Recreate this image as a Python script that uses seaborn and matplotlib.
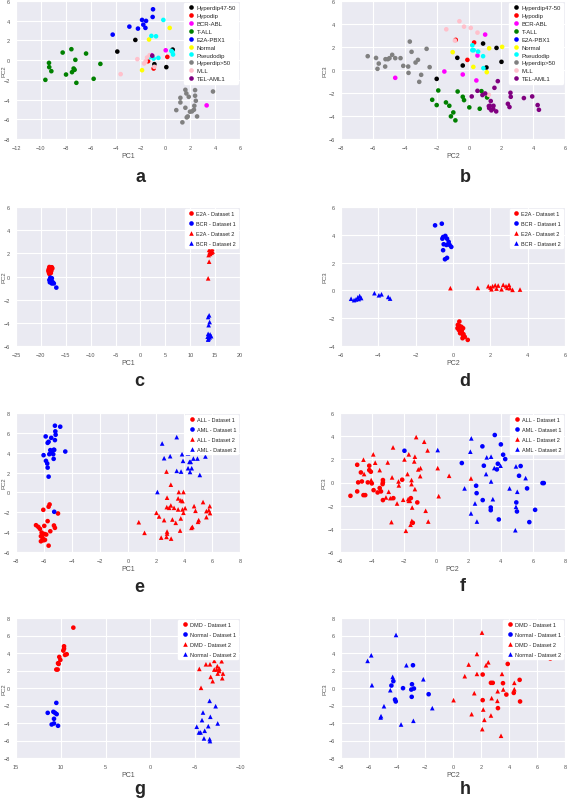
import pandas as pd
import matplotlib
matplotlib.use("Agg")
import matplotlib.pyplot as plt
import seaborn as sns

# ---- panel a / b : leukemia subtypes (PC1 vs PC2, PC2 vs PC3) ----
subtypes = ['Hyperdip47-50', 'Hypodip', 'BCR-ABL', 'T-ALL', 'E2A-PBX1',
            'Normal', 'Pseudodip', 'Hyperdip>50', 'MLL', 'TEL-AML1']
subtype_colors = ['black', 'red', 'magenta', 'green', 'blue',
                  'yellow', 'cyan', 'gray', 'pink', 'purple']

a_hyperdip4750 = [(-2.41, 2.05), (-3.86, 0.87), (0.59, 1.07), (-0.88, -0.41), (0.08, -0.71)]
a_hypodip = [(0.16, 0.33), (-1.39, -0.11), (-0.94, -0.85)]
a_bcrabl = [(0.03, 1.0), (-1.12, 0.5), (3.32, -4.59)]
a_tall = [(-8.25, 0.77), (-7.55, 1.11), (-6.37, 0.67), (-7.23, 0.03), (-9.35, -0.28),
          (-9.33, -0.71), (-9.16, -1.12), (-7.37, -0.85), (-7.29, -0.98), (-7.5, -1.22),
          (-7.98, -1.46), (-5.22, -0.38), (-5.76, -1.89), (-7.15, -2.30), (-9.64, -2.0)]
a_e2apbx1 = [(-0.99, 5.16), (-1.02, 4.38), (-1.87, 4.08), (-1.55, 3.98), (-1.77, 3.60),
             (-2.89, 3.40), (-2.2, 3.2), (-1.6, 3.27), (-4.23, 2.59)]
a_normal = [(0.35, 3.27), (-1.31, 2.09), (-1.87, -1.02)]
a_pseudodip = [(-0.16, 4.08), (-1.12, 2.46), (-0.75, 2.42), (-1.26, 0.30), (-0.94, 0.16),
               (-0.56, 0.23), (0.48, 0.94), (0.62, 0.57), (0.56, 0.84)]
a_hyperdip50 = [(1.61, -3.01), (2.39, -3.04), (1.69, -3.38), (3.83, -3.18), (2.39, -3.61),
                (1.21, -3.82), (1.88, -3.72), (2.45, -4.12), (1.21, -4.29), (2.33, -4.63),
                (1.61, -4.83), (2.3, -5.03), (2.14, -5.20), (1.98, -5.23), (0.88, -5.07),
                (2.55, -5.71), (1.8, -5.71), (1.72, -5.81), (1.37, -6.31)]
a_mll = [(-1.26, 0.50), (-2.25, 0.10), (-1.71, -0.34), (-1.58, -0.11), (-1.47, 0.26),
         (-3.59, -1.42), (-0.88, -0.68)]
a_telaml1 = [(-1.05, 0.45)]

b_hyperdip4750 = [(0.88, 2.30), (1.72, 1.92), (-0.73, 1.06), (-0.39, 0.39), (1.09, 0.22),
                  (2.03, 0.71), (-2.02, -0.77)]
b_hypodip = [(-0.83, 2.62), (0.32, 2.39), (-0.1, 0.88)]
b_bcrabl = [(1.01, 3.08), (0.53, 1.26), (-1.54, -0.13), (-0.39, -0.39), (0.46, -0.91),
            (-4.61, -0.68)]
b_tall = [(-1.92, -1.78), (-0.71, -1.87), (0.78, -1.84), (-2.30, -2.59), (-2.02, -3.05),
          (-1.44, -2.82), (-1.23, -3.11), (-0.39, -2.33), (-0.31, -2.62), (0.02, -3.25),
          (0.67, -3.37), (1.13, -2.39), (-0.98, -3.69), (-1.13, -4.03), (-0.85, -4.38)]
b_e2apbx1 = []
b_normal = [(-1.02, 1.55), (1.26, 1.89), (2.07, 2.01), (0.27, 0.27), (1.11, -0.19)]
b_pseudodip = [(0.21, 2.15), (0.21, 1.72), (0.29, 1.72), (0.57, 1.60), (0.88, 1.20), (0.9, 0.16)]
b_hyperdip50 = [(-6.33, 1.20), (-5.81, 1.05), (-5.64, 0.56), (-5.72, 0.10), (-5.22, 0.94),
                (-5.07, 0.94), (-4.97, 1.03), (-4.8, 1.32), (-4.61, 1.03), (-5.24, 0.30),
                (-4.28, 1.03), (-4.11, 0.36), (-3.8, 0.30), (-3.7, 2.47), (-3.59, 1.58),
                (-3.34, 0.65), (-3.19, 0.88), (-3.78, -0.25), (-2.99, -0.42), (-3.11, -1.03),
                (-2.65, 1.84), (-2.46, 0.25)]
b_mll = [(-0.6, 4.24), (-1.42, 3.54), (-0.31, 3.77), (0.11, 3.66), (0.53, 3.25),
         (-0.88, 2.56), (1.24, -2.16)]
b_telaml1 = [(1.8, -0.97), (1.59, -1.55), (0.53, -1.81), (1.01, -2.04), (0.84, -2.18),
             (0.17, -2.30), (2.59, -1.98), (2.61, -2.33), (3.43, -2.44), (3.95, -2.30),
             (1.36, -2.70), (1.30, -3.11), (1.24, -3.14), (1.53, -3.11), (1.51, -3.37),
             (1.40, -3.51), (1.7, -3.60), (2.43, -2.94), (2.53, -3.22), (4.29, -3.05),
             (4.37, -3.46), (1.26, -3.31)]

# ---- panel c / d : E2A vs BCR ----
cd_labels = ['E2A - Dataset 1', 'BCR - Dataset 1', 'E2A - Dataset 2', 'BCR - Dataset 2']
c_e2a_d1 = [(-18.3, 0.82), (-18.0, 0.75), (-18.4, 0.65), (-18.1, 0.6), (-17.7, 0.7),
            (-18.5, 0.5), (-18.2, 0.45), (-17.9, 0.5), (-18.4, 0.35), (-18.0, 0.3),
            (-18.3, 0.22), (-17.8, 0.8), (-18.1, 0.4)]
c_bcr_d1 = [(-18.1, -0.1), (-17.8, -0.15), (-18.3, -0.3), (-17.9, -0.35), (-18.1, -0.45),
            (-17.6, -0.5), (-17.8, -0.6), (-17.4, -0.6), (-18.2, -0.5), (-16.9, -0.96)]
c_e2a_d2 = [(13.9, 2.85), (14.3, 2.75), (14.1, 2.55), (14.4, 2.4), (13.8, 2.3),
            (14.2, 2.2), (14.5, 2.15), (13.9, 2.1), (14.3, 2.05), (14.0, 1.95),
            (13.7, 1.85), (13.8, 1.28), (13.6, -0.16)]
c_bcr_d2 = [(13.8, -3.35), (13.6, -3.5), (13.9, -3.93), (13.7, -4.2), (13.6, -4.95),
            (14.0, -5.0), (13.8, -5.1), (14.2, -5.15), (13.5, -5.2), (13.9, -5.25),
            (13.7, -5.35), (13.6, -5.45)]

d_e2a_d1 = [(0.34, -2.24), (0.26, -2.48), (0.36, -2.57), (0.45, -2.62), (0.24, -2.72),
            (0.54, -2.72), (0.32, -2.86), (0.47, -2.91), (0.38, -3.08), (0.56, -3.15),
            (0.63, -3.34), (0.51, -3.44), (0.79, -3.56), (0.54, -3.25)]
d_bcr_d1 = [(-0.96, 4.68), (-0.6, 4.80), (-0.53, 3.84), (-0.41, 3.92), (-0.57, 3.72),
            (-0.32, 3.72), (-0.5, 3.32), (-0.35, 3.27), (-0.23, 3.49), (-0.18, 3.27),
            (-0.09, 3.13), (-0.53, 2.89), (-0.43, 2.24), (-0.32, 2.34)]
d_e2a_d2 = [(-0.14, 0.16), (1.33, 0.18), (1.89, 0.30), (2.01, 0.2), (2.12, 0.3),
            (2.26, 0.37), (2.06, 0.08), (2.33, 0.13), (2.6, 0.08), (2.69, 0.40),
            (2.84, 0.30), (2.91, 0.18), (3.0, 0.40), (3.05, 0.16), (3.19, 0.04),
            (3.59, 0.06), (2.42, 0.35)]
d_bcr_d2 = [(-5.46, -0.6), (-5.2, -0.65), (-5.1, -0.5), (-5.0, -0.4), (-4.92, -0.55),
            (-5.3, -0.7), (-5.05, -0.62), (-4.21, -0.2), (-3.97, -0.35), (-3.83, -0.28),
            (-3.47, -0.47), (-3.37, -0.59)]

# ---- panel e / f : ALL vs AML ----
ef_labels = ['ALL - Dataset 1', 'AML - Dataset 1', 'ALL - Dataset 2', 'AML - Dataset 2']
e_all_d1 = [(-5.6, -1.21), (-5.67, -1.44), (-6.05, -1.75), (-5.0, -2.12), (-5.74, -2.89),
            (-6.57, -3.30), (-6.41, -3.47), (-5.98, -3.37), (-5.29, -3.33), (-5.22, -3.57),
            (-6.29, -3.67), (-5.55, -3.91), (-6.17, -4.04), (-5.98, -4.18), (-6.22, -4.41),
            (-6.1, -4.58), (-5.93, -4.78), (-6.22, -4.92), (-6.03, -4.82), (-5.84, -4.24),
            (-5.67, -5.36)]
e_aml_d1 = [(-5.22, 6.72), (-4.84, 6.62), (-5.19, 6.15), (-5.17, 5.81), (-5.88, 5.64),
            (-5.48, 5.50), (-5.67, 5.10), (-5.22, 5.27), (-5.74, 4.99), (-5.55, 4.26),
            (-5.27, 4.29), (-5.50, 4.02), (-5.34, 3.85), (-5.62, 3.85), (-5.31, 4.29),
            (-6.03, 3.75), (-4.48, 4.12), (-5.31, 3.38), (-5.86, 3.18), (-5.77, 2.91),
            (-5.74, 2.50), (-5.67, 1.59), (-5.27, -1.95)]
e_all_d2 = [(2.75, 2.10), (3.06, 0.78), (2.79, -0.53), (3.63, 0.04), (3.96, 0.04),
            (3.58, -0.60), (3.77, -0.80), (3.89, -0.87), (3.06, -1.31), (2.77, -1.48),
            (2.94, -1.55), (3.29, -1.55), (3.58, -1.71), (2.03, -2.05), (2.22, -2.42),
            (2.58, -2.79), (3.17, -2.73), (3.77, -2.62), (3.96, -2.05), (3.89, -1.71),
            (4.08, -1.58), (4.72, -1.38), (4.82, -1.85), (5.36, -0.97), (5.84, -1.38),
            (5.6, -1.88), (5.77, -1.78), (5.86, -2.08), (5.6, -2.49), (5.05, -2.79),
            (5.0, -2.96), (4.6, -3.47), (4.53, -3.57), (3.41, -3.06), (3.72, -3.84),
            (2.79, -3.94), (2.79, -4.14), (0.77, -3.0), (1.18, -4.07), (2.37, -4.55),
            (3.08, -4.65), (2.75, -4.48)]
e_aml_d2 = [(2.44, 4.93), (2.58, 3.45), (3.01, 3.65), (3.48, 5.57), (3.86, 3.85),
            (4.29, 3.92), (3.93, 3.18), (4.39, 3.08), (4.48, 3.08), (4.67, 3.41),
            (4.96, 3.41), (5.53, 3.62), (3.48, 2.17), (3.79, 2.10), (4.29, 2.44),
            (4.55, 2.44), (4.43, 2.06), (5.13, 1.76), (2.1, 0.04)]

f_all_d1 = [(-5.35, -1.15), (-4.93, 1.53), (-4.87, 0.01), (-4.93, -0.77), (-4.70, 0.87),
            (-4.64, 0.09), (-4.54, -1.09), (-4.43, -1.09), (-4.18, 1.45), (-4.18, 1.07),
            (-4.08, 0.93), (-4.27, 0.01), (-4.02, -0.08), (-3.91, -0.66), (-3.66, -0.86),
            (-3.53, -0.48), (-3.33, 0.21), (-3.33, 0.01), (-3.35, -0.14), (-3.45, -0.77),
            (-3.33, -1.52), (-2.13, 0.24), (-1.59, -1.35), (-1.47, -3.48), (-1.19, -1.72),
            (-2.68, -1.35)]
f_aml_d1 = [(-1.99, 2.74), (1.58, 1.68), (2.86, 3.12), (3.63, 4.10), (4.01, 3.29),
            (4.15, 2.40), (4.28, 2.02), (3.82, 1.62), (3.76, 1.13), (2.95, 1.45),
            (2.47, -0.28), (2.50, -0.92), (2.88, -1.52), (3.38, -2.16), (3.38, -2.39),
            (3.88, -3.19), (4.97, -1.72), (5.01, -2.5), (5.14, 0.58), (5.24, 1.42),
            (5.64, -0.51), (5.78, -3.42), (6.14, -2.36), (6.6, -0.05), (6.68, -0.05)]
f_all_d2 = [(-4.54, 1.97), (-4.50, 0.73), (-3.93, 2.43), (-3.81, 1.71), (-3.53, 1.07),
            (-4.06, 0.21), (-3.03, 1.73), (-2.97, -0.80), (-3.14, -1.29), (-2.87, -1.35),
            (-2.70, 3.03), (-2.76, 0.44), (-2.36, 0.09), (-2.34, -0.25), (-2.45, -1.81),
            (-2.07, -1.49), (-1.90, -4.17), (-1.80, 0.73), (-1.72, 2.43), (-1.55, 0.21),
            (-1.76, -1.43), (-1.72, -1.58), (-1.65, -1.58), (-1.55, -0.14), (-1.51, -2.16),
            (-1.53, -3.31), (-1.61, -3.65), (-1.34, 2.23), (-1.38, 1.82), (-1.34, -0.57),
            (-1.26, 3.92), (-1.13, 1.13), (-0.99, 1.24), (-1.01, 0.55), (-0.76, 3.52),
            (-0.67, -2.44), (-0.55, 2.77), (-0.51, -3.37), (0.08, 1.24), (0.14, -1.18),
            (0.79, 0.58), (2.15, 0.35), (-2.8, -3.42), (-1.99, 1.99)]
f_aml_d2 = [(0.08, 2.80), (1.75, -0.51), (2.11, 2.66), (2.17, 3.81), (3.13, 2.17),
            (3.40, 2.23), (3.09, 0.73), (3.40, 0.09), (3.51, -1.44), (3.99, 1.45),
            (4.55, -0.51), (4.95, 1.39), (5.03, -0.80), (4.95, -2.10), (5.55, 0.38),
            (2.40, -1.81), (2.15, -2.67), (2.52, -3.37), (4.91, -4.12), (3.6, 1.25)]

# ---- panel g / h : DMD vs Normal ----
gh_labels = ['DMD - Dataset 1', 'Normal - Dataset 1', 'DMD - Dataset 2', 'Normal - Dataset 2']
g_dmd_d1 = [(8.6, 6.90), (9.64, 4.77), (9.64, 4.50), (9.72, 4.27), (9.34, 3.86),
            (9.53, 3.78), (10.17, 3.55), (10.05, 3.21), (10.31, 2.83), (10.24, 2.75),
            (10.5, 2.11), (10.35, 2.11)]
g_normal_d1 = [(10.5, -1.70), (11.46, -2.84), (10.83, -2.72), (10.65, -2.84), (10.46, -2.99),
               (10.76, -3.52), (10.76, -4.05), (11.02, -4.17), (10.31, -4.32)]
g_dmd_d2 = [(-6.54, 3.48), (-7.4, 3.48), (-5.46, 2.18), (-6.2, 2.71), (-6.65, 2.71),
            (-7.13, 3.10), (-7.95, 3.06), (-7.47, 2.49), (-7.13, 2.11), (-7.4, 2.11),
            (-7.69, 2.22), (-7.69, 1.95), (-7.51, 1.65), (-8.1, 1.65), (-8.02, 1.12),
            (-6.73, 1.27), (-6.95, 0.78), (-5.65, 0.02)]
g_normal_d2 = [(-6.61, -1.47), (-7.28, -2.08), (-5.87, -2.80), (-5.76, -3.67), (-6.69, -3.29),
               (-7.51, -4.05), (-6.46, -4.36), (-5.17, -4.43), (-6.06, -4.89), (-5.42, -5.08),
               (-5.6, -5.08), (-5.98, -5.76), (-6.61, -5.84), (-6.65, -6.07)]

h_dmd_d1 = [(3.91, 2.75), (2.12, 1.54), (2.71, 0.59), (2.84, 0.59), (3.57, 0.55),
            (3.81, -0.75), (4.34, -0.56), (4.76, 0.93), (4.79, -1.54), (2.12, -1.39),
            (3.21, -2.30), (6.95, 3.36)]
h_normal_d1 = [(-2.86, 2.60), (-4.26, 0.78), (-4.4, 0.28), (-3.57, -0.02), (-4.14, -1.32),
               (-4.09, -1.54), (-2.93, 0.43), (-2.98, -0.18), (-2.79, -0.06), (-2.95, -1.01),
               (-1.74, -0.71)]
h_dmd_d2 = [(2.07, 6.33), (1.71, 3.89), (1.12, 2.68), (2.52, 2.94), (2.36, 2.60),
            (1.71, 1.61), (0.84, 1.35), (3.5, 1.61), (1.52, -0.59), (2.76, -1.16),
            (3.17, -1.47), (3.59, -0.17), (3.19, -0.37), (4.38, 0.59), (4.38, -0.14),
            (0.04, -1.39), (1.33, -2.99), (2.16, -2.46), (2.24, -3.64), (2.09, -4.70),
            (2.71, -3.14), (3.43, -5.46)]
h_normal_d2 = [(-4.07, 6.06), (-5.84, 3.74), (-6.1, 3.10), (-5.79, 0.32), (-4.31, 1.27),
               (-4.48, -0.25), (-4.93, -2.08), (-5.14, -3.22), (-5.17, -3.37), (-3.71, -4.17),
               (-2.83, -3.75), (-3.33, 2.6), (-2.12, 1.0), (-1.48, -2.30)]

two_colors = ['red', 'blue', 'red', 'blue']
two_markers = ['o', 'o', '^', '^']

sns.set_style("darkgrid")
plt.rcParams['font.family'] = ['Liberation Sans', 'DejaVu Sans']

W, H = 567, 804
fig = plt.figure(figsize=(W / 100, H / 100), dpi=100)


def make_ax(left, right, top, bottom):
    return fig.add_axes([left / W, 1 - bottom / H, (right - left) / W, (bottom - top) / H])


def draw(ax, names, groups, colors, markers, xlab, ylab, xlim, ylim, xstep, ystep,
         leg_fs, leg_sp, ylab_x):
    rows = []
    for name, pts in zip(names, groups):
        for x, y in pts:
            rows.append((x, y, name))
    df = pd.DataFrame(rows, columns=['x', 'y', 'label'])
    sns.scatterplot(data=df, x='x', y='y', hue='label', hue_order=names,
                    style='label', style_order=names,
                    palette=dict(zip(names, colors)), markers=dict(zip(names, markers)),
                    s=11, linewidth=0, ax=ax)
    lo, hi = min(xlim), max(xlim)
    ax.set_xticks(range(lo, hi + 1, xstep))
    ax.set_yticks(range(ylim[0], ylim[1] + 1, ystep))
    ax.set_xlim(*xlim)
    ax.set_ylim(*ylim)
    ax.tick_params(labelsize=4, pad=0.8, colors='#555555')
    ax.set_xlabel(xlab, fontsize=5, labelpad=1.5, color='#555555')
    ax.set_ylabel(ylab, fontsize=4.3, color='#555555')
    ax.yaxis.set_label_coords(ylab_x, 0.5)
    sns.move_legend(ax, 'upper right', title=None, fontsize=leg_fs, frameon=True,
                    facecolor='white', edgecolor='white', framealpha=1,
                    borderaxespad=0.3, handletextpad=0.1, labelspacing=leg_sp,
                    borderpad=0.4, handlelength=1.6)


LEFT_YL = -0.041
RIGHT_YL = -0.06

ax_a = make_ax(16, 240, 2, 140)
draw(ax_a, subtypes,
     [a_hyperdip4750, a_hypodip, a_bcrabl, a_tall, a_e2apbx1,
      a_normal, a_pseudodip, a_hyperdip50, a_mll, a_telaml1],
     subtype_colors, ['o'] * 10, 'PC1', 'PC2', (-12, 6), (-8, 6), 2, 2, 4.3, 0.45, LEFT_YL)

ax_b = make_ax(341, 565, 2, 140)
draw(ax_b, subtypes,
     [b_hyperdip4750, b_hypodip, b_bcrabl, b_tall, b_e2apbx1,
      b_normal, b_pseudodip, b_hyperdip50, b_mll, b_telaml1],
     subtype_colors, ['o'] * 10, 'PC2', 'PC3', (-8, 6), (-6, 6), 2, 2, 4.3, 0.45, RIGHT_YL)

ax_c = make_ax(16, 240, 208, 347)
draw(ax_c, cd_labels, [c_e2a_d1, c_bcr_d1, c_e2a_d2, c_bcr_d2], two_colors, two_markers,
     'PC1', 'PC2', (-25, 20), (-6, 6), 5, 2, 4, 0.9, LEFT_YL)

ax_d = make_ax(341, 565, 208, 347)
draw(ax_d, cd_labels, [d_e2a_d1, d_bcr_d1, d_e2a_d2, d_bcr_d2], two_colors, two_markers,
     'PC2', 'PC3', (-6, 6), (-4, 6), 2, 2, 4, 0.9, RIGHT_YL)

ax_e = make_ax(16, 240, 414, 553)
draw(ax_e, ef_labels, [e_all_d1, e_aml_d1, e_all_d2, e_aml_d2], two_colors, two_markers,
     'PC1', 'PC2', (-8, 8), (-6, 8), 2, 2, 4, 0.9, LEFT_YL)

ax_f = make_ax(340, 565, 414, 553)
draw(ax_f, ef_labels, [f_all_d1, f_aml_d1, f_all_d2, f_aml_d2], two_colors, two_markers,
     'PC2', 'PC3', (-6, 8), (-6, 6), 2, 2, 4, 0.9, RIGHT_YL)

ax_g = make_ax(16, 240, 619, 759)
draw(ax_g, gh_labels, [g_dmd_d1, g_normal_d1, g_dmd_d2, g_normal_d2], two_colors, two_markers,
     'PC1', 'PC2', (15, -10), (-8, 8), 5, 2, 4, 0.9, LEFT_YL)

ax_h = make_ax(341, 565, 619, 759)
draw(ax_h, gh_labels, [h_dmd_d1, h_normal_d1, h_dmd_d2, h_normal_d2], two_colors, two_markers,
     'PC2', 'PC3', (-8, 8), (-8, 8), 2, 2, 4, 0.9, RIGHT_YL)

# panel letters
for letter, (px, py) in zip('abcdefgh', [(140, 177), (465, 177), (139, 382), (465, 382),
                                         (139, 588), (463, 587), (140, 790), (465, 790)]):
    fig.text(px / W, 1 - py / H, letter, fontsize=13, fontweight='bold',
             ha='center', va='center', family=['Liberation Sans', 'DejaVu Sans'])

fig.savefig('out.png', dpi=100)
